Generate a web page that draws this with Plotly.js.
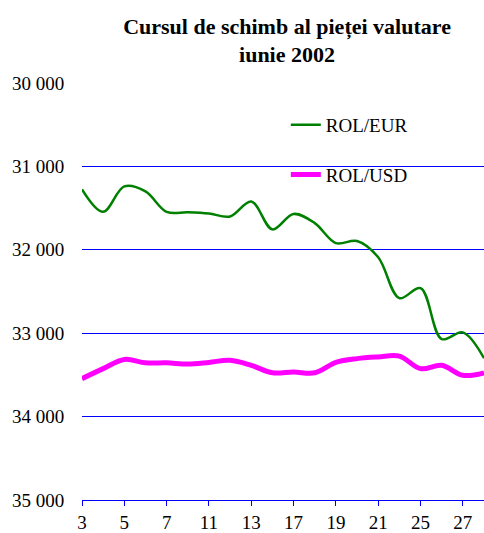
<!DOCTYPE html>
<html>
<head>
<meta charset="utf-8">
<script src="https://cdn.plot.ly/plotly-3.0.1.min.js"></script>
<style>html,body{margin:0;padding:0;background:#fff;}#chart{width:484px;height:533px;}</style>
</head>
<body>
<div id="chart"></div>
<script>
const days = ['3','4','5','6','7','10','11','12','13','14','17','18','19','20','21','24','25','26','27','28'];
const rolEur = [31275, 31545, 31240, 31300, 31545, 31550, 31565, 31600, 31420, 31755, 31570, 31680, 31920, 31895, 32090, 32580, 32460, 33070, 32990, 33300];
const rolUsd = [33545, 33425, 33315, 33355, 33355, 33370, 33350, 33325, 33385, 33475, 33465, 33475, 33350, 33305, 33285, 33275, 33425, 33385, 33505, 33475];
const yTicks = [30000, 31000, 32000, 33000, 34000, 35000];

const FONT = 'Liberation Serif';

const traces = [
  {x: days, y: rolEur, name: 'ROL/EUR', type: 'scatter', mode: 'lines', legendgroup: 'a',
   line: {color: '#008000', width: 2.5, shape: 'spline', smoothing: 1}},
  {x: days, y: rolUsd, name: 'ROL/USD', type: 'scatter', mode: 'lines', legendgroup: 'b',
   line: {color: '#FF00FF', width: 5, shape: 'spline', smoothing: 1}}
];

const layout = {
  width: 484, height: 533,
  margin: {l: 82, r: 0, t: 83, b: 33},
  paper_bgcolor: '#ffffff', plot_bgcolor: '#ffffff',
  separators: '. ',
  font: {family: FONT, size: 19, color: '#000'},
  title: {text: '<b>Cursul de schimb al pieței valutare<br>iunie 2002</b>',
          font: {family: FONT, size: 22, color: '#000'},
          xref: 'paper', x: 0.51, xanchor: 'center', yref: 'container', y: 0.937, yanchor: 'middle'},
  xaxis: {type: 'category', range: [0, days.length - 1], tick0: 0, dtick: 2,
          showgrid: false, zeroline: false, showline: true, linecolor: '#0000FF', linewidth: 1,
          ticks: 'outside', ticklen: 5, tickcolor: '#0000FF', tickfont: {family: FONT, size: 19}},
  yaxis: {range: [35000, 30000], tickvals: yTicks, tickformat: ',d', showgrid: true,
          gridcolor: '#0000FF', gridwidth: 1, zeroline: false, showline: false,
          ticks: 'outside', ticklen: 13, tickcolor: 'rgba(0,0,0,0)', tickfont: {family: FONT, size: 19}},
  shapes: [{type: 'rect', xref: 'paper', yref: 'paper', layer: 'between',
            x0: (239 - 82) / 402, x1: (444 - 82) / 402, y0: 1 - (198 - 83) / 417, y1: 1 - (102 - 83) / 417,
            fillcolor: '#ffffff', line: {width: 0}}],
  showlegend: true,
  legend: {x: 0.507, y: 0.945, xanchor: 'left', yanchor: 'top', bgcolor: 'rgba(255,255,255,0)',
           borderwidth: 0, tracegroupgap: 22, font: {family: FONT, size: 19}, traceorder: 'grouped'}
};

Plotly.newPlot('chart', traces, layout, {staticPlot: true, displayModeBar: false});
</script>
</body>
</html>
